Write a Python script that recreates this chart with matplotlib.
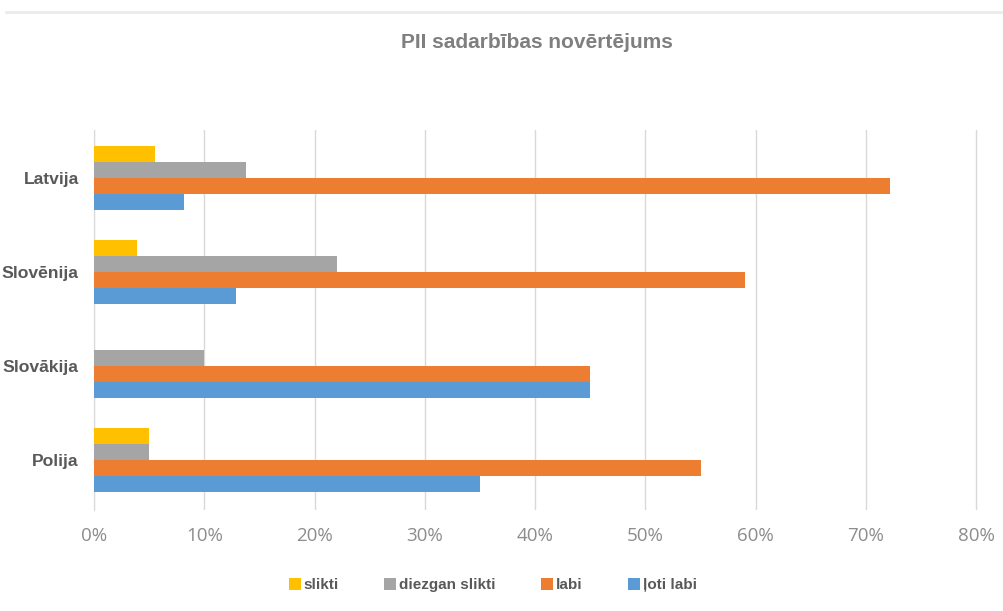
import numpy as np
import matplotlib.pyplot as plt
from matplotlib.lines import Line2D
from matplotlib.ticker import FuncFormatter

plt.rcParams['font.family'] = ['Liberation Sans', 'DejaVu Sans']

# dati (daļa no 1)
valstis = ['Latvija', 'Slovēnija', 'Slovākija', 'Polija']
serijas = ['slikti', 'diezgan slikti', 'labi', 'ļoti labi']
slikti = [0.055, 0.039, 0.0, 0.05]
diezgan_slikti = [0.138, 0.22, 0.10, 0.05]
labi = [0.722, 0.59, 0.45, 0.55]
loti_labi = [0.082, 0.129, 0.45, 0.35]
krasas = ['#FFC000', '#A5A5A5', '#ED7D31', '#5B9BD5']

fig = plt.figure(figsize=(10.04, 6.11), dpi=100)
ax = fig.add_axes([0.0936, 0.165, 0.8805, 0.622])

y = np.arange(len(valstis))[::-1]
h = 0.17
vertibas = [slikti, diezgan_slikti, labi, loti_labi]
for i, (v, k, n) in enumerate(zip(vertibas, krasas, serijas)):
    ax.barh(y + (1.5 - i) * h, v, height=h, color=k, label=n, zorder=3)

ax.set_xlim(0, 0.8015)
ax.set_ylim(-0.53, 3.51)
ax.set_xticks(np.arange(0, 0.81, 0.1))
ax.xaxis.set_major_formatter(FuncFormatter(lambda x, p: f'{x*100:.0f}%'))
ax.set_yticks(y)
ax.set_yticklabels(valstis, fontsize=12.6, fontweight='bold', color='#595959')
ax.tick_params(axis='x', colors='#8C8C8C', length=0, pad=12)
for t in ax.get_xticklabels():
    t.set_fontfamily('Open Sans')
    t.set_fontsize(13.5)
ax.tick_params(axis='y', length=0, pad=11)
ax.grid(axis='x', color='#D9D9D9', linewidth=1, zorder=0)
for s in ['top', 'right', 'bottom']:
    ax.spines[s].set_visible(False)
ax.spines['left'].set_color('#D9D9D9')
ax.spines['left'].set_zorder(1)

fig.text(0.535, 0.931, 'PII sadarbības novērtējums', ha='center', va='center',
         fontsize=15, fontweight='bold', color='#7F7F7F')

# rāmja augšējā līnija
fig.add_artist(Line2D([0.006, 1.0], [0.981, 0.981], color='#EBEBEB', lw=2))

leg = fig.legend(loc='center', bbox_to_anchor=(0.491, 0.042), ncol=4, frameon=False,
                 handlelength=0.8, handleheight=0.8, handletextpad=0.2, columnspacing=2.95,
                 prop={'size': 11, 'weight': 'bold'})
for t in leg.get_texts():
    t.set_color('#595959')

plt.savefig('out.png', dpi=100)
